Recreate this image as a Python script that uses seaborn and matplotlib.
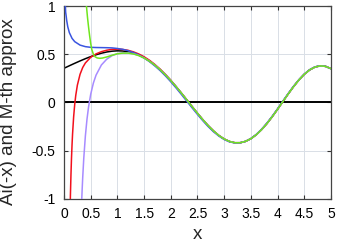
import matplotlib
matplotlib.use("Agg")
import matplotlib.pyplot as plt
import seaborn as sns

# Ai(-x)
x_head = [0.0, 0.1, 0.2, 0.3, 0.4, 0.5, 0.6, 0.7, 0.8, 0.9, 1.0,
          1.1, 1.2, 1.3, 1.4, 1.5, 1.6, 1.7, 1.8, 1.9, 2.0]
ai_head = [0.3550, 0.3809, 0.4063, 0.4309, 0.4542, 0.4757, 0.4949, 0.5110,
           0.5236, 0.5320, 0.5356, 0.5338, 0.5262, 0.5123, 0.4917, 0.4643,
           0.4299, 0.3886, 0.3408, 0.2868, 0.2274]

# oscillating part, where all approximations sit on top of Ai(-x)
x_osc = [2.1, 2.2, 2.3, 2.4, 2.5, 2.6, 2.7, 2.8, 2.9, 3.0,
         3.1, 3.2, 3.3, 3.4, 3.5, 3.6, 3.7, 3.8, 3.9, 4.0,
         4.1, 4.2, 4.3, 4.4, 4.5, 4.6, 4.7, 4.8, 4.9, 5.0]
ai_osc = [0.1635, 0.0961, 0.0267, -0.0433, -0.1123, -0.1785, -0.2401, -0.2951,
          -0.3419, -0.3788, -0.4044, -0.4174, -0.4172, -0.4032, -0.3755, -0.3348,
          -0.2820, -0.2189, -0.1474, -0.0703, 0.0097, 0.0892, 0.1650, 0.2337,
          0.2922, 0.3375, 0.3674, 0.3800, 0.3745, 0.3508]

# M = 0 (blue)
x_m0 = [0.02, 0.025, 0.03, 0.04, 0.05, 0.07, 0.1, 0.15, 0.2, 0.3, 0.4, 0.5,
        0.6, 0.7, 0.8, 0.9, 1.0, 1.1, 1.2, 1.3, 1.4, 1.5, 1.6, 1.7, 1.8, 1.9, 2.0]
y_m0 = [1.063, 1.006, 0.937, 0.897, 0.850, 0.785, 0.724, 0.665, 0.631, 0.595,
        0.579, 0.572, 0.570, 0.569, 0.568, 0.566, 0.560, 0.551, 0.537, 0.518,
        0.493, 0.461, 0.424, 0.380, 0.331, 0.276, 0.215]
y_m0_osc = [0.1507, 0.0831, 0.0137, -0.0553, -0.1235, -0.1885, -0.2491, -0.3031,
            -0.3479, -0.3836, -0.4084, -0.4194, -0.4182, -0.4032, -0.3743, -0.3318,
            -0.2780, -0.2139, -0.1424, -0.0657, 0.0147, 0.0932, 0.1690, 0.2367,
            0.2947, 0.3395, 0.3694, 0.3810, 0.3745, 0.3497]

# M = 1 (red)
x_m1 = [0.115, 0.12, 0.13, 0.14, 0.15, 0.16, 0.18, 0.2, 0.22, 0.25, 0.3, 0.35,
        0.4, 0.5, 0.6, 0.7, 0.8, 0.9, 1.0, 1.1, 1.2, 1.3, 1.4, 1.5, 1.6, 1.7,
        1.8, 1.9, 2.0]
y_m1 = [-1.079, -0.954, -0.745, -0.576, -0.439, -0.325, -0.149, -0.021, 0.075,
        0.180, 0.292, 0.363, 0.410, 0.469, 0.504, 0.527, 0.542, 0.551, 0.553,
        0.550, 0.541, 0.525, 0.503, 0.474, 0.438, 0.395, 0.346, 0.291, 0.231]

# M = 2 (light purple)
x_m2 = [0.33, 0.34, 0.35, 0.37, 0.40, 0.43, 0.46, 0.50, 0.55, 0.60, 0.70,
        0.80, 0.90, 1.0, 1.1, 1.2, 1.3, 1.4, 1.5, 1.6, 1.7, 1.8, 1.9, 2.0]
y_m2 = [-1.030, -0.897, -0.778, -0.577, -0.346, -0.174, -0.044, 0.086, 0.202,
        0.284, 0.389, 0.449, 0.486, 0.506, 0.515, 0.515, 0.505, 0.488, 0.462,
        0.429, 0.389, 0.341, 0.288, 0.228]

# M = 3 (green)
x_m3 = [0.40, 0.42, 0.44, 0.46, 0.48, 0.50, 0.52, 0.55, 0.58, 0.62, 0.67,
        0.72, 0.80, 0.90, 1.0, 1.1, 1.2, 1.3, 1.4, 1.5, 1.6, 1.7, 1.8, 1.9, 2.0]
y_m3 = [1.20, 1.00, 0.88, 0.78, 0.69, 0.61, 0.55, 0.50, 0.475, 0.462, 0.458,
        0.461, 0.472, 0.490, 0.505, 0.512, 0.512, 0.503, 0.486, 0.461, 0.428,
        0.388, 0.340, 0.286, 0.227]

x_ticks = [0, 0.5, 1, 1.5, 2, 2.5, 3, 3.5, 4, 4.5, 5]
y_ticks = [-1, -0.5, 0, 0.5, 1]

sns.set_style("ticks")
plt.rcParams['font.family'] = ['Liberation Sans', 'DejaVu Sans']

fig, ax = plt.subplots(figsize=(3.37, 2.42), dpi=100)
fig.subplots_adjust(left=0.19, right=0.982, bottom=0.178, top=0.975)

ax.grid(True, color='#d9dfe6', linewidth=0.7, zorder=0)
ax.axhline(0, color='black', linewidth=1.4, zorder=1)

series = [
    (x_head + x_osc, ai_head + ai_osc, 'black'),
    (x_m1 + x_osc, y_m1 + ai_osc, '#f2101c'),
    (x_m0 + x_osc, y_m0 + y_m0_osc, '#3a55e0'),
    (x_m2 + x_osc, y_m2 + ai_osc, '#a78bff'),
    (x_m3 + x_osc, y_m3 + ai_osc, '#6fe61c'),
]
for i, (xs, ys, col) in enumerate(series):
    sns.lineplot(x=xs, y=ys, color=col, linewidth=1.1, estimator=None,
                 sort=False, ax=ax, zorder=2 + i)

ax.set_xlim(0, 5)
ax.set_ylim(-1, 1)
ax.set_xticks(x_ticks)
ax.set_xticklabels([f"{t:g}" for t in x_ticks])
ax.set_yticks(y_ticks)
ax.set_yticklabels([f"{t:g}" for t in y_ticks])
ax.tick_params(direction='in', length=3, width=0.8, colors='#333333',
               labelcolor='black', labelsize=10, top=True, right=True, pad=6)
for sp in ax.spines.values():
    sp.set_color('#444444')
    sp.set_linewidth(0.9)

ax.set_xlabel('x', fontsize=13.5)
ax.set_ylabel('Ai(-x) and M-th approx', fontsize=13.5)
ax.xaxis.set_label_coords(0.5, -0.14)
ax.yaxis.set_label_coords(-0.175, 0.455)

fig.savefig('out.png', dpi=100)
